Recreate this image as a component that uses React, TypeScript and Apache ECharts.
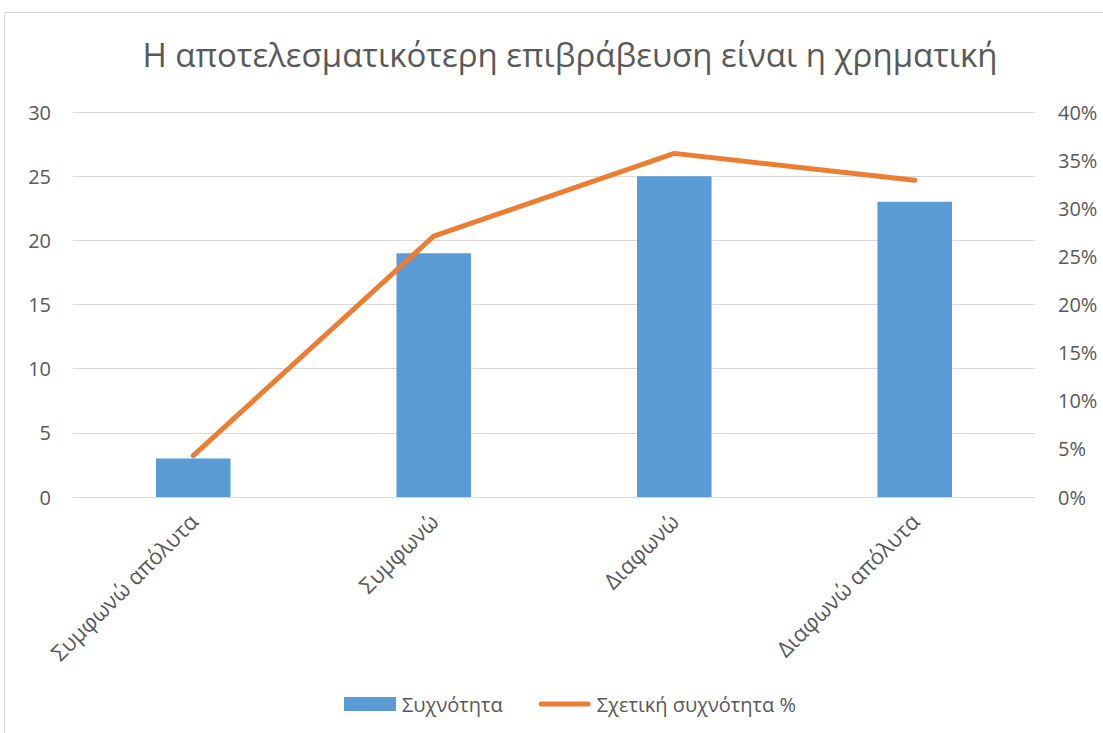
import React, { useEffect, useRef } from "react";
import * as echarts from "echarts";

const categories = ["Συμφωνώ απόλυτα", "Συμφωνώ", "Διαφωνώ", "Διαφωνώ απόλυτα"];
const frequency = [3, 19, 25, 23];
const relativeFrequency = [0.043, 0.271, 0.357, 0.329];
const leftTicks = { min: 0, max: 30, interval: 5 };
const rightTicks = { min: 0, max: 0.4, interval: 0.05 };

const TEXT = "#595959";
const GRID = "#D9D9D9";
const FONT = "'Open Sans', 'Noto Sans', sans-serif";

// Thin horizontal band inside a 52x14 box, used as the line series' legend key.
const LINE_KEY = "path://M0,0 M52,0 M0,14 M52,14 M2.5,4.5 L49.5,4.5 A2.5,2.5 0 0 1 49.5,9.5 L2.5,9.5 A2.5,2.5 0 0 1 2.5,4.5 Z";

export default function App() {
  const ref = useRef<HTMLDivElement>(null);

  useEffect(() => {
    if (!ref.current) return;
    const chart = echarts.init(ref.current, undefined, { renderer: "svg" });
    chart.setOption({
      animation: false,
      backgroundColor: "#ffffff",
      textStyle: { fontFamily: FONT },
      title: {
        text: "Η αποτελεσματικότερη επιβράβευση είναι η χρηματική",
        left: 565,
        textAlign: "center",
        top: 33,
        textStyle: { color: TEXT, fontSize: 33, fontWeight: "normal", fontFamily: FONT },
      },
      graphic: [
        {
          type: "rect",
          shape: { x: 4.5, y: 12.5, width: 1110, height: 730 },
          style: { fill: "none", stroke: GRID, lineWidth: 1 },
          silent: true,
        },
      ],
      grid: { left: 73, right: 68, top: 112, bottom: 236, containLabel: false },
      legend: {
        top: 689,
        left: 339,
        itemWidth: 52,
        itemHeight: 14,
        itemGap: 36,
        textStyle: { color: TEXT, fontSize: 20, fontFamily: FONT, padding: [0, 0, 0, 1] },
        data: [
          { name: "Συχνότητα", icon: "rect" },
          { name: "Σχετική συχνότητα %", icon: LINE_KEY },
        ],
      },
      xAxis: {
        type: "category",
        data: categories,
        axisLine: { lineStyle: { color: GRID, width: 1 } },
        axisTick: { show: false },
        axisLabel: { color: TEXT, fontSize: 22, rotate: 45, margin: 20, interval: 0 },
      },
      yAxis: [
        {
          type: "value",
          ...leftTicks,
          axisLine: { show: false },
          axisTick: { show: false },
          splitLine: { lineStyle: { color: GRID, width: 1 } },
          axisLabel: { color: TEXT, fontSize: 20, margin: 22 },
        },
        {
          type: "value",
          ...rightTicks,
          position: "right",
          axisLine: { show: false },
          axisTick: { show: false },
          splitLine: { show: false },
          axisLabel: {
            color: TEXT,
            fontSize: 20,
            margin: 23,
            formatter: (v: number) => `${Math.round(v * 100)}%`,
          },
        },
      ],
      series: [
        {
          name: "Συχνότητα",
          type: "bar",
          data: frequency,
          barWidth: "31%",
          itemStyle: { color: "#5B9BD5" },
        },
        {
          name: "Σχετική συχνότητα %",
          type: "line",
          yAxisIndex: 1,
          data: relativeFrequency,
          symbol: "none",
          lineStyle: { color: "#ED7D31", width: 5, cap: "round", join: "round" },
          itemStyle: { color: "#ED7D31" },
        },
      ],
    });
    return () => chart.dispose();
  }, []);

  return (
    <div
      ref={ref}
      style={{ position: "fixed", left: 0, top: 0, width: 1103, height: 733 }}
    />
  );
}
